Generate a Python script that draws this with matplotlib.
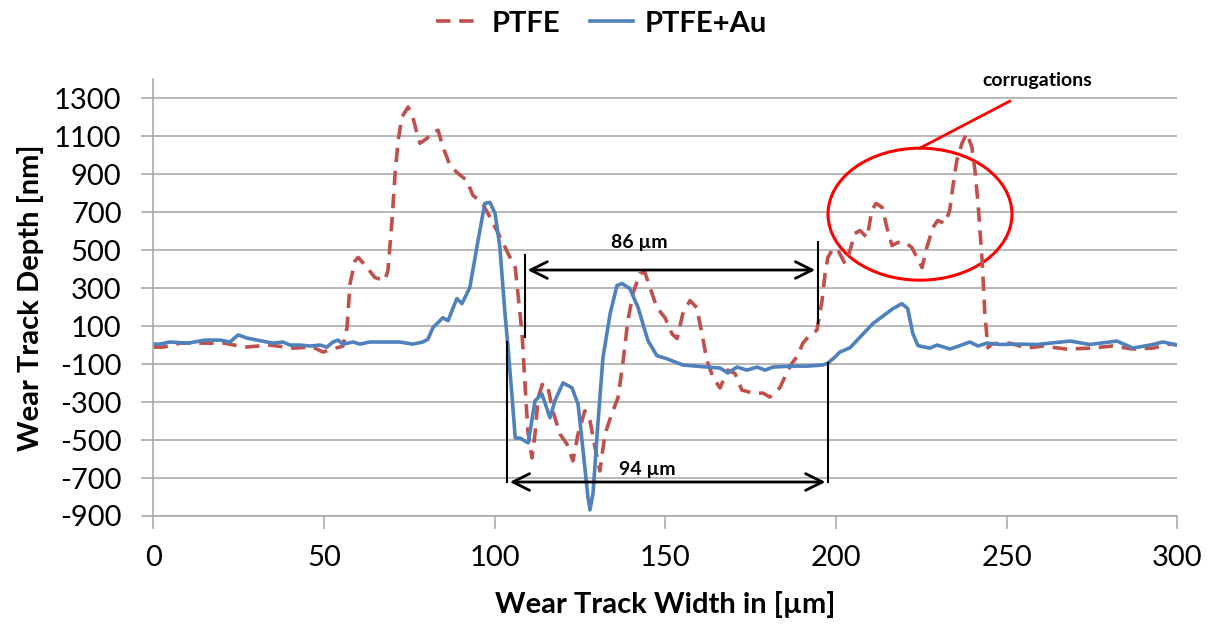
import numpy as np
from matplotlib import pyplot as plt
from matplotlib.patches import Ellipse

# wear track profiles
au_x = [0, 1.9, 4.8, 10.1, 15.1, 19.5, 22.4, 24.8, 27.4, 30.3, 35.0, 37.9, 40.0, 42.9,
        45.9, 48.8, 50.8, 52.6, 54.1, 55.5, 58.5, 60.5, 63.4, 67.2, 72.1, 76.0, 78.9,
        80.4, 81.9, 84.8, 86.3, 88.9, 90.4, 92.7, 95.1, 97.1, 98.6, 100.1, 101.5, 103.0,
        103.9, 105.1, 106.0, 107.4, 109.8, 111.8, 113.8, 116.2, 117.6, 120.0, 122.6,
        124.4, 125.8, 127.3, 127.9, 128.8, 130.0, 131.7, 133.8, 135.8, 137.3, 139.6,
        142.0, 144.9, 147.5, 150.4, 155.1, 162.2, 166.0, 168.3, 171.0, 173.9, 176.9,
        179.2, 181.5, 186.5, 191.5, 196.1, 197.6, 199.7, 201.1, 204.1, 210.8, 216.7,
        219.3, 221.0, 222.5, 224.0, 226.0, 227.5, 229.6, 233.4, 236.3, 239.2, 241.6,
        244.2, 248.0, 253.9, 258.9, 262.7, 268.6, 274.4, 282.3, 287.0, 292.0, 295.8, 300.0]
au_y = [5, 5, 16, 10, 26, 26, 16, 53, 37, 26, 10, 16, 0, 0,
        -5, 0, -11, 16, 26, 5, 16, 5, 16, 16, 16, 5, 16,
        30, 92, 144, 128, 245, 218, 303, 550, 746, 751, 693, 514, 165,
        -14, -278, -489, -490, -515, -294, -257, -383, -294, -199, -225,
        -310, -542, -800, -868, -780, -468, -67, 165, 313, 324, 297,
        197, 23, -56, -72, -105, -116, -121, -147, -116, -132, -116,
        -132, -116, -111, -111, -105, -95, -63, -37, -14, 113, 192,
        218, 192, 60, -3, -11, -16, 0, -21, -3, 16, -5,
        10, 3, 5, 3, 10, 21, 3, 21, -16, 0, 16, 0]

ptfe_x = [0, 2.8, 7.8, 14.5, 20.7, 26.8, 34.1, 40.9, 46.7, 49.7, 52.3, 54.7, 55.5, 56.7,
          57.6, 59.1, 60.0, 62.6, 64.9, 67.8, 68.7, 69.9, 70.8, 71.7, 72.8, 74.6, 76.0,
          77.2, 78.1, 80.2, 81.6, 83.4, 84.8, 86.9, 89.2, 91.8, 93.6, 96.2, 98.0, 100.1,
          102.1, 103.9, 106.0, 106.8, 108.0, 108.8, 109.7, 110.9, 111.8, 112.7, 114.1,
          115.6, 117.0, 119.1, 121.1, 122.9, 124.4, 126.4, 127.9, 129.4, 130.8, 132.3,
          134.3, 136.1, 137.5, 139.0, 140.5, 142.5, 144.0, 145.5, 147.5, 149.9, 151.9,
          153.4, 155.1, 157.2, 159.2, 160.7, 162.2, 164.0, 166.0, 168.3, 170.4, 172.4,
          175.6, 178.6, 180.6, 183.5, 185.0, 187.1, 188.5, 190.3, 191.8, 194.4, 195.9,
          196.8, 197.6, 199.1, 200.6, 202.6, 203.5, 205.5, 207.0, 209.1, 210.5, 211.7,
          213.5, 214.9, 216.4, 218.1, 220.2, 222.2, 223.7, 225.2, 226.6, 228.4, 229.8,
          231.9, 233.3, 234.2, 235.4, 236.9, 238.3, 239.8, 240.7, 241.6, 242.8, 243.6,
          244.5, 245.7, 250.9, 255.9, 260.6, 267.3, 275.0, 281.1, 287.0, 292.9, 297.8, 300.0]
ptfe_y = [-11, -11, 10, 10, 10, -11, 0, -16, -11, -37, -21, -10, -5, 92,
          324, 445, 461, 408, 355, 340, 392, 656, 904, 1078, 1200, 1253, 1200,
          1115, 1062, 1089, 1120, 1131, 1042, 946, 904, 867, 788, 751, 693, 620,
          550, 482, 408, 271, 60, -188, -452, -594, -468, -278, -199,
          -225, -346, -468, -520, -610, -468, -346, -399, -541, -663, -468,
          -362, -278, -100, 128, 271, 377, 382, 303, 197, 144, 60,
          34, 165, 234, 197, 60, -83, -172, -226, -132, -150, -237,
          -253, -253, -274, -226, -168, -95, -63, 10, 42, 79, 234,
          377, 461, 508, 498, 429, 461, 587, 603, 566, 709, 746,
          725, 619, 524, 540, 540, 514, 461, 408, 514, 619, 656,
          640, 709, 830, 973, 1062, 1115, 1042, 920, 746, 445, 165,
          -14, 7, 10, -16, -5, -21, -16, -5, -21, -16, 5, 0]

x_ticks = [0, 50, 100, 150, 200, 250, 300]
y_ticks = list(range(-900, 1301, 200))

plt.rcParams['font.family'] = ['Lato', 'DejaVu Sans']
plt.rcParams['axes.unicode_minus'] = False

fig = plt.figure(figsize=(12.16, 6.25), dpi=100)
ax = fig.add_axes([0.1262, 0.1744, 0.842, 0.699])

ax.plot(ptfe_x, ptfe_y, color='#C0504D', linewidth=2.6, dashes=(4, 2.4), label='PTFE')
ax.plot(au_x, au_y, color='#4F81BD', linewidth=2.6, label='PTFE+Au')

ax.set_xlim(0, 300)
ax.set_ylim(-900, 1400)
ax.set_xticks(x_ticks)
ax.set_yticks(y_ticks)
ax.yaxis.grid(True, color='#A6A6A6', linewidth=1.1)
ax.set_axisbelow(True)
for s in ['top', 'right']:
    ax.spines[s].set_visible(False)
for s in ['left', 'bottom']:
    ax.spines[s].set_color('#A6A6A6')
    ax.spines[s].set_linewidth(1.1)
ax.tick_params(axis='both', labelsize=21, color='#A6A6A6', width=1.1, length=9)
ax.tick_params(axis='x', pad=12)
ax.tick_params(axis='y', pad=14)

ax.set_xlabel('Wear Track Width in [µm]', fontsize=21, fontweight='bold', labelpad=14)
ax.set_ylabel('Wear Track Depth [nm]', fontsize=21, fontweight='bold', labelpad=7)

# 86 um span
ax.plot([108.8, 108.8], [42, 473], color='black', linewidth=1.5)
ax.plot([194.7, 194.7], [116, 542], color='black', linewidth=1.5)
ax.annotate('', xy=(108.8, 395), xytext=(194.7, 395),
            arrowprops=dict(arrowstyle='<->', color='black', lw=2, mutation_scale=30))
ax.text(142.5, 542, '86 µm', fontsize=14, fontweight='bold', ha='center', va='center')

# 94 um span
ax.plot([103.6, 103.6], [16, -721], color='black', linewidth=1.5)
ax.plot([197.7, 197.7], [-95, -721], color='black', linewidth=1.5)
ax.annotate('', xy=(103.6, -721), xytext=(197.7, -721),
            arrowprops=dict(arrowstyle='<->', color='black', lw=2, mutation_scale=30))
ax.text(144.6, -653, '94 µm', fontsize=14, fontweight='bold', ha='center', va='center')

# corrugations callout
ax.add_patch(Ellipse((224.6, 689), 53.9, 695, fill=False, edgecolor='#FF0000', linewidth=2.2))
ax.plot([224.6, 250.9], [1037, 1284], color='#FF0000', linewidth=2)
ax.text(258.9, 1395, 'corrugations', fontsize=14, fontweight='bold', ha='center', va='center')

fig.legend(loc='upper center', bbox_to_anchor=(0.495, 1.025), ncol=2, frameon=False,
           prop={'size': 21, 'weight': 'bold'}, handlelength=1.5, handletextpad=0.4,
           columnspacing=1.0)

fig.savefig('out.png', dpi=100)
